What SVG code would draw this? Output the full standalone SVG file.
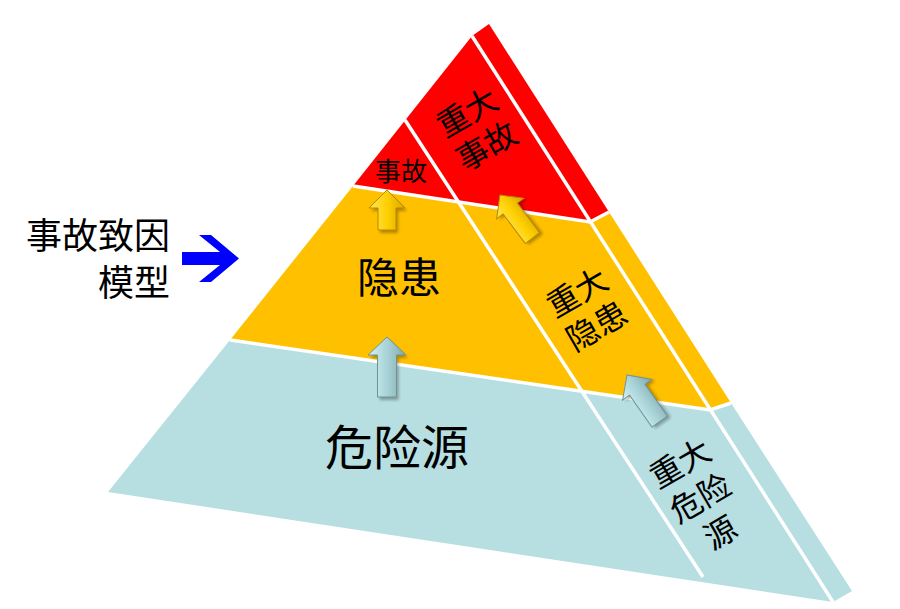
<svg xmlns="http://www.w3.org/2000/svg" width="900" height="609" viewBox="0 0 900 609">
  <style>
    .cjk { font-family: "Noto Sans CJK SC", "Noto Sans", sans-serif; fill: #000; }
    .sep { stroke: #fff; stroke-width: 3.5; fill: none; stroke-linecap: butt; stroke-linejoin: miter; }
    .ya { fill: url(#gy); stroke: #b88a00; stroke-width: 1; }
    .ba { fill: url(#gb); stroke: #6f9498; stroke-width: 1; }
    .sh { fill: #000; opacity: 0.3; filter: url(#blur); }
  </style>
  <defs>
    <linearGradient id="gy" x1="0" y1="0" x2="1" y2="0">
      <stop offset="0" stop-color="#ffe45c"/>
      <stop offset="0.5" stop-color="#ffd000"/>
      <stop offset="1" stop-color="#dca600"/>
    </linearGradient>
    <linearGradient id="gb" x1="0" y1="0" x2="1" y2="0">
      <stop offset="0" stop-color="#d4f3f6"/>
      <stop offset="0.5" stop-color="#a8d3d7"/>
      <stop offset="1" stop-color="#80a9ad"/>
    </linearGradient>
    <filter id="blur" x="-30%" y="-30%" width="160%" height="160%">
      <feGaussianBlur stdDeviation="1.5"/>
    </filter>
  </defs>

  <g id="layer-accident">
    <polygon points="472,36 489,24 609,212 590,222 353,186" fill="#ff0000"/>
  </g>
  <g id="layer-hazard">
    <polygon points="353,186 590,222 609,212 731,403 710,410 230,340" fill="#ffc000"/>
  </g>
  <g id="layer-source">
    <polygon points="230,340 710,410 731,403 852,591 833,602 108,492" fill="#b7dee0"/>
  </g>

  <g id="separators">
    <polyline class="sep" points="353,186 590,222 609,212"/>
    <polyline class="sep" points="230,340 710,410 731,403"/>
    <line class="sep" x1="472" y1="36" x2="833" y2="602"/>
    <line class="sep" x1="405" y1="120" x2="703" y2="577"/>
  </g>

  <g id="connectors">
    <g transform="translate(387,190)">
      <polygon class="sh" transform="translate(2,3)" points="0,0 18,18 9,18 9,40 -9,40 -9,18 -18,18"/>
      <polygon class="ya" points="0,0 18,18 9,18 9,40 -9,40 -9,18 -18,18"/>
    </g>
    <g transform="translate(500,195) rotate(-37)">
      <polygon class="sh" transform="translate(2,3)" points="0,0 17,17 9,17 9,54 -9,54 -9,17 -17,17"/>
      <polygon class="ya" points="0,0 17,17 9,17 9,54 -9,54 -9,17 -17,17"/>
    </g>
    <g transform="translate(387,337)">
      <polygon class="sh" transform="translate(2,3)" points="0,0 19,18 9.5,18 9.5,60 -9.5,60 -9.5,18 -19,18"/>
      <polygon class="ba" points="0,0 19,18 9.5,18 9.5,60 -9.5,60 -9.5,18 -19,18"/>
    </g>
    <g transform="translate(627,375) rotate(-35)">
      <polygon class="sh" transform="translate(2,3)" points="0,0 18,18 9.5,18 9.5,57 -9.5,57 -9.5,18 -18,18"/>
      <polygon class="ba" points="0,0 18,18 9.5,18 9.5,57 -9.5,57 -9.5,18 -18,18"/>
    </g>
    <polygon id="model-arrow" points="182,252 220,252 199,235 211,235 239,258.5 211,282 199,282 220,265 182,265" fill="#0000ff"/>
  </g>

  <g id="label-model">
    <text class="cjk" x="170" y="249" font-size="36" text-anchor="end">事故致因</text>
    <text class="cjk" x="170" y="296" font-size="36" text-anchor="end">模型</text>
  </g>
  <g id="label-accident">
    <text class="cjk" x="401" y="181" font-size="26" text-anchor="middle">事故</text>
  </g>
  <g id="label-hazard">
    <text class="cjk" x="399" y="293" font-size="42" text-anchor="middle">隐患</text>
  </g>
  <g id="label-source">
    <text class="cjk" x="397" y="465" font-size="48" text-anchor="middle">危险源</text>
  </g>
  <g id="label-major-accident" transform="translate(467,112) rotate(-30)">
    <text class="cjk" x="0" y="12" font-size="32" text-anchor="middle">重大</text>
    <text class="cjk" x="0" y="51" font-size="32" text-anchor="middle">事故</text>
  </g>
  <g id="label-major-hazard" transform="translate(577,292) rotate(-30)">
    <text class="cjk" x="0" y="12" font-size="32" text-anchor="middle">重大</text>
    <text class="cjk" x="0" y="51" font-size="32" text-anchor="middle">隐患</text>
  </g>
  <g id="label-major-source" transform="translate(680,463) rotate(-30)">
    <text class="cjk" x="0" y="12" font-size="32" text-anchor="middle">重大</text>
    <text class="cjk" x="0" y="52" font-size="32" text-anchor="middle">危险</text>
    <text class="cjk" x="0" y="92" font-size="32" text-anchor="middle">源</text>
  </g>
</svg>
